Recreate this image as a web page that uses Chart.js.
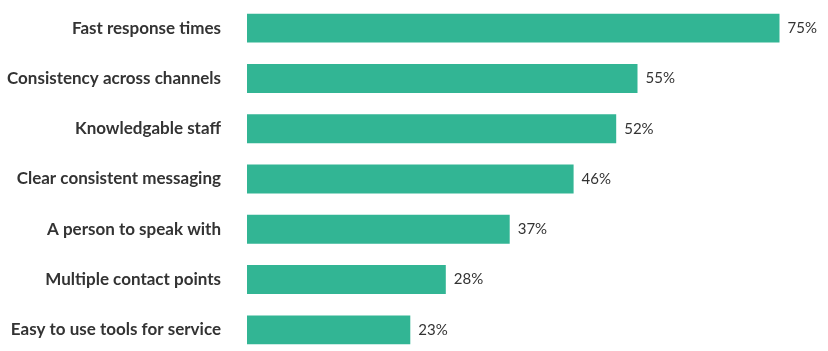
<!DOCTYPE html>
<html><head><meta charset="utf-8">
<script src="https://cdn.jsdelivr.net/npm/chart.js@4.4.0/dist/chart.umd.min.js"></script>
<style>
html,body{margin:0;padding:0;background:#fff;overflow:hidden;}
canvas{display:block;}
</style></head>
<body>
<canvas id="c" width="828" height="358"></canvas>
<script>
const categories = ["Fast response times","Consistency across channels","Knowledgable staff","Clear consistent messaging","A person to speak with","Multiple contact points","Easy to use tools for service"];
const values = [75, 55, 52, 46, 37, 28, 23];
const barColor = "#32b594";

const valueLabels = {
  id: 'valueLabels',
  afterDatasetsDraw(chart) {
    const ctx = chart.ctx;
    const meta = chart.getDatasetMeta(0);
    ctx.save();
    ctx.font = "15px Lato";
    ctx.fillStyle = "#333333";
    ctx.textAlign = "left";
    ctx.textBaseline = "middle";
    meta.data.forEach((bar, i) => {
      ctx.fillText(values[i] + "%", bar.x + 8, bar.y);
    });
    ctx.restore();
  }
};

new Chart(document.getElementById('c'), {
  type: 'bar',
  data: {
    labels: categories,
    datasets: [{
      data: values,
      backgroundColor: barColor,
      borderWidth: 0,
      barPercentage: 0.575,
      categoryPercentage: 1.0
    }]
  },
  options: {
    indexAxis: 'y',
    responsive: false,
    animation: false,
    layout: { padding: { top: 3, bottom: 3, left: 0, right: 13 } },
    plugins: { legend: { display: false }, tooltip: { enabled: false } },
    scales: {
      x: {
        display: false,
        min: 0,
        max: 80
      },
      y: {
        grid: { display: false, drawTicks: true, tickLength: 26 },
        border: { display: false },
        ticks: {
          color: "#333333",
          font: { family: "Lato", size: 17, weight: "bold" },
          padding: 0
        },
        afterFit(scale) {
          scale.width = 247;
          scale.paddingTop = 0;
          scale.paddingBottom = 0;
        }
      }
    }
  },
  plugins: [valueLabels]
});
</script>
</body></html>
